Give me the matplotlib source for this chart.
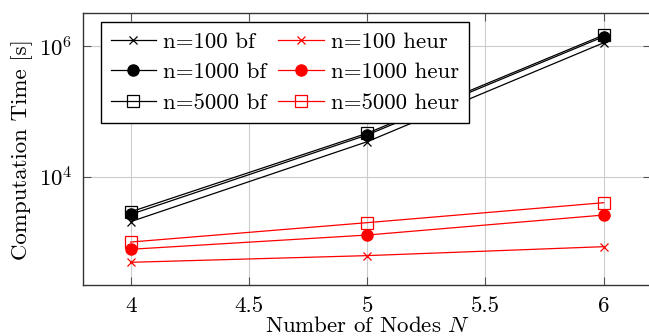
import numpy as np
import matplotlib
matplotlib.use('Agg')
import matplotlib.pyplot as plt
from matplotlib.ticker import LogFormatterMathtext, NullLocator

plt.rcParams['font.family'] = 'serif'
plt.rcParams['font.serif'] = ['cmr10', 'DejaVu Serif']
plt.rcParams['mathtext.fontset'] = 'cm'
plt.rcParams['axes.formatter.use_mathtext'] = True

# data
nodes = [4, 5, 6]
bf100 = [2050, 34300, 1.12e6]
bf1000 = [2650, 43500, 1.39e6]
bf5000 = [2900, 46200, 1.47e6]
heur100 = [490, 620, 850]
heur1000 = [775, 1280, 2590]
heur5000 = [1000, 1980, 4000]

xticks = [4, 4.5, 5, 5.5, 6]
yticks = [1e4, 1e6]

fs = 16.5
fig = plt.figure(figsize=(6.49, 3.36), dpi=100)
ax = fig.add_axes([0.1284, 0.1518, 0.8746, 0.8086])

lw = 0.9
ax.plot(nodes, bf100, color='black', lw=lw, marker='x', ms=6, mew=lw, label='n=100 bf')
ax.plot(nodes, bf1000, color='black', lw=lw, marker='o', ms=8, label='n=1000 bf')
ax.plot(nodes, bf5000, color='black', lw=lw, marker='s', ms=8, mfc='none', mew=lw, label='n=5000 bf')
ax.plot(nodes, heur100, color='red', lw=lw, marker='x', ms=6, mew=lw, label='n=100 heur')
ax.plot(nodes, heur1000, color='red', lw=lw, marker='o', ms=8, label='n=1000 heur')
ax.plot(nodes, heur5000, color='red', lw=lw, marker='s', ms=8, mfc='none', mew=lw, label='n=5000 heur')

ax.set_yscale('log')
ax.set_xlim(3.8, 6.2)
ax.set_ylim(10**2.343, 10**6.5)
ax.set_xticks(xticks)
ax.set_xticklabels(['4', '4.5', '5', '5.5', '6'])
ax.set_yticks(yticks)
ax.yaxis.set_major_formatter(LogFormatterMathtext())
ax.yaxis.set_minor_locator(NullLocator())

ax.grid(True, color='#cccccc', lw=0.8)
ax.set_axisbelow(True)
for s in ax.spines.values():
    s.set_color('#333333')
    s.set_linewidth(1.0)
ax.tick_params(direction='in', length=6, width=0.8, color='#555555',
               top=True, right=True, labelsize=fs)
ax.tick_params(axis='x', pad=8)
ax.tick_params(axis='y', pad=8)

ax.set_xlabel('Number of Nodes $N$', fontsize=fs, labelpad=0)
ax.set_ylabel('Computation Time [s]', fontsize=fs, labelpad=4)

leg = ax.legend(ncol=2, loc='upper left', bbox_to_anchor=(0.031, 0.968),
                borderaxespad=0, fontsize=fs, fancybox=False, framealpha=1,
                edgecolor='black', handlelength=2.0, handletextpad=0.3,
                columnspacing=0.5, labelspacing=0.47, borderpad=0.42)
leg.get_frame().set_linewidth(1.0)

fig.savefig('out.png', dpi=100)
